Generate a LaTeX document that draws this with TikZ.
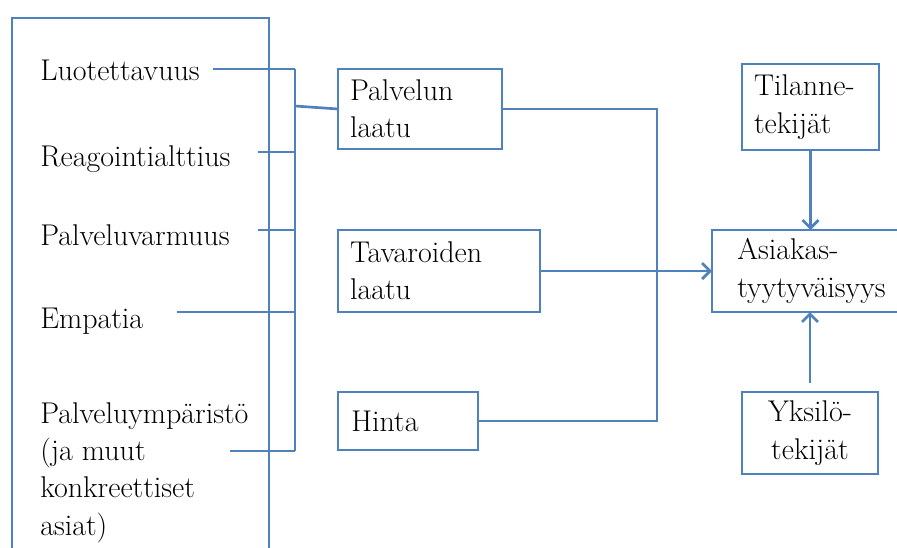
\documentclass[tikz,border=0pt]{standalone}
\usepackage{fontspec}
\usetikzlibrary{arrows.meta}
\definecolor{lineblue}{RGB}{79,129,189}

\begin{document}
\begin{tikzpicture}[x=0.75pt,y=-0.75pt,
    link/.style={draw=lineblue,line width=2pt},
    arr/.style={link,-{Straight Barb[length=6pt,width=12pt]}},
    lbl/.style={inner sep=0pt,anchor=base west,font=\fontsize{22.5}{28}\selectfont},
    box/.style={link,anchor=north west,outer sep=0pt,inner ysep=0pt,align=left,
      font=\fontsize{22.5}{28}\selectfont}]
  \clip (0,0) rectangle (897,547);
  \fill[white] (0,0) rectangle (897,547);
  \draw[link] (12,18) rectangle (269,570);

  \node[lbl] (luo) at (40,80) {Luotettavuus};
  \node[lbl] (rea) at (40,166) {Reagointialttius};
  \node[lbl] (pva) at (40,245) {Palveluvarmuus};
  \node[lbl] (emp) at (40,328) {Empatia};
  \node[lbl,anchor=north west,align=left] (ymp) at (40,402)
    {Palveluympäristö\\(ja muut\\konkreettiset\\asiat)};

  \node[box,inner xsep=9pt,text width=105pt,minimum height=60pt] (pl) at (338,69) {Palvelun\\laatu};
  \node[box,inner xsep=9pt,text width=133.5pt,minimum height=61.5pt] (tl) at (338,230) {Tavaroiden\\laatu};
  \node[box,inner xsep=10pt,text width=85pt,minimum height=43.5pt] (hi) at (338,392) {Hinta};
  \node[box,inner xsep=19pt,text width=127pt,minimum height=61.5pt] (as) at (712,230) {Asiakas-\\tyytyväisyys};
  \node[box,inner xsep=9pt,text width=84.75pt,minimum height=64.5pt] (ti) at (742,64) {Tilanne-\\tekijät};
  \node[box,align=center,inner xsep=10pt,text width=82pt,minimum height=61.5pt] (yk) at (742,392) {Yksilö-\\tekijät};

  \coordinate (busT) at (295,69);
  \coordinate (busB) at (295,451);
  \coordinate (busM) at (295,106);
  \coordinate (col) at (657,109);
  \coordinate (luoE) at (213,69);
  \coordinate (reaE) at (258,152);
  \coordinate (pvaE) at (258,230);
  \coordinate (empE) at (177,312);
  \coordinate (ympE) at (230,451);

  \draw[link] (busT) -- (busB);
  \foreach \e in {luoE,reaE,pvaE,empE,ympE}
    \draw[link] (\e) -- (\e -| busT);
  \draw[link] (busM) -- (pl.west);

  \draw[link] (pl.east) -- (pl.east -| col) |- (hi.east);
  \draw[arr] (tl.east) -- (as.west);
  \draw[arr] (ti.south) -- (ti.south |- as.north);
  \draw[arr,shorten <=7pt] (yk.north) -- (yk.north |- as.south);
\end{tikzpicture}
\end{document}
